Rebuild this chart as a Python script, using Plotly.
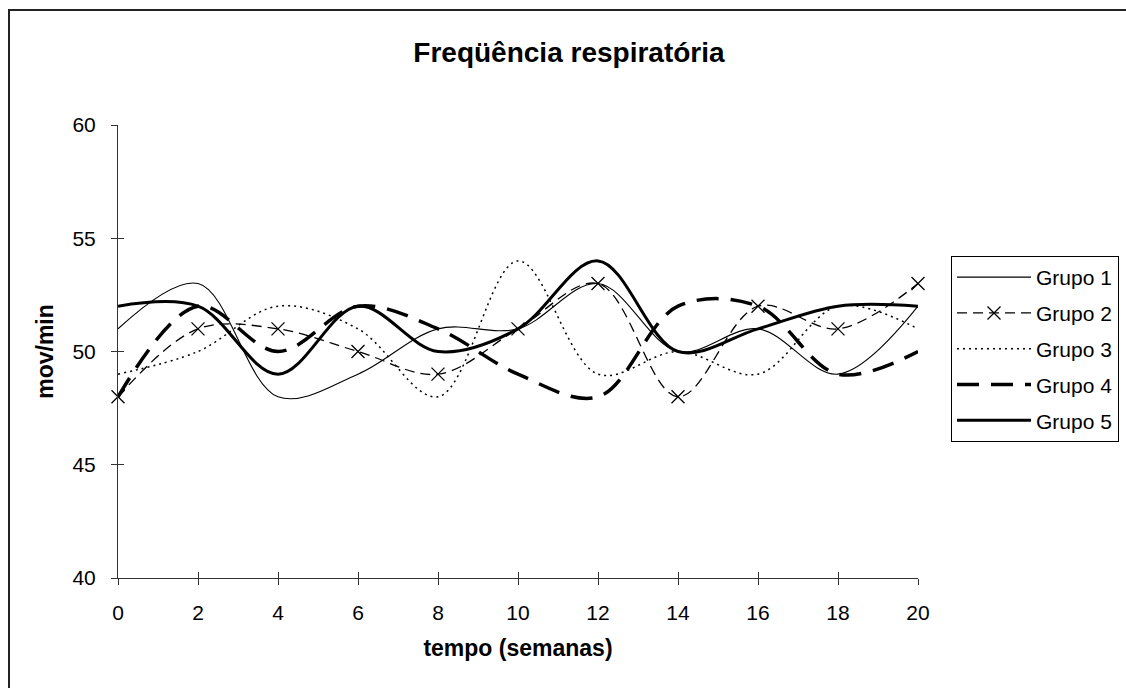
import plotly.graph_objects as go

# Respiratory rate (breaths/min) per group, measured every two weeks
semanas = [0, 2, 4, 6, 8, 10, 12, 14, 16, 18, 20]
grupo_1 = [51, 53, 48, 49, 51, 51, 53, 50, 51, 49, 52]
grupo_2 = [48, 51, 51, 50, 49, 51, 53, 48, 52, 51, 53]
grupo_3 = [49, 50, 52, 51, 48, 54, 49, 50, 49, 52, 51]
grupo_4 = [48, 52, 50, 52, 51, 49, 48, 52, 52, 49, 50]
grupo_5 = [52, 52, 49, 52, 50, 51, 54, 50, 51, 52, 52]

x_ticks = [0, 2, 4, 6, 8, 10, 12, 14, 16, 18, 20]
y_ticks = [40, 45, 50, 55, 60]

FONT = "Liberation Sans, Arial, sans-serif"

series = [
    ("Grupo 1", grupo_1, dict(width=1.1, dash="solid"), None),
    ("Grupo 2", grupo_2, dict(width=1.3, dash="10px,6px"),
     dict(symbol="x-thin", size=13, line=dict(width=1.3, color="black"), color="black")),
    ("Grupo 3", grupo_3, dict(width=1.5, dash="2px,4px"), None),
    ("Grupo 4", grupo_4, dict(width=3.5, dash="22px,12px"), None),
    ("Grupo 5", grupo_5, dict(width=3, dash="solid"), None),
]

fig = go.Figure()
for name, vals, line, marker in series:
    fig.add_trace(go.Scatter(
        x=semanas, y=vals, name=name,
        mode="lines+markers" if marker else "lines",
        line=dict(color="black", shape="spline", smoothing=1.0, **line),
        marker=marker,
        legendgroup=name,
        cliponaxis=False,
    ))

# empty trace that carries the inner half of the crossing tick marks
fig.add_trace(go.Scatter(x=[None], y=[None], xaxis="x2", yaxis="y2",
                         showlegend=False, hoverinfo="skip"))

axis_common = dict(showgrid=False, zeroline=False, linecolor="#333", linewidth=1,
                   tickcolor="#333", tickwidth=1, ticklen=6,
                   tickfont=dict(family=FONT, size=21, color="black"))
tick_only = {k: v for k, v in axis_common.items() if k != "tickfont"}

fig.update_layout(
    width=1126, height=688,
    margin=dict(l=118, r=208, t=125, b=110),
    paper_bgcolor="white", plot_bgcolor="white",
    font=dict(family=FONT, color="black"),
    title=dict(text="<b>Freqüência respiratória</b>", x=0.5053, xref="container",
               y=1 - 52 / 688, yref="container", xanchor="center", yanchor="middle",
               font=dict(family=FONT, size=28, color="black")),
    xaxis=dict(range=[0, 20], tickvals=x_ticks, ticks="outside", showline=True,
               ticklabelstandoff=10, automargin=False,
               title=dict(text="<b>tempo (semanas)</b>", standoff=16,
                          font=dict(family=FONT, size=23, color="black")),
               **axis_common),
    yaxis=dict(range=[40, 60], tickvals=y_ticks, ticks="outside", showline=True,
               ticklabelstandoff=11, automargin=False,
               title=dict(text="<b>mov/min</b>", standoff=12,
                          font=dict(family=FONT, size=23, color="black")),
               **axis_common),
    xaxis2=dict(range=[0, 20], tickvals=x_ticks, ticks="inside", overlaying="x",
                anchor="y2", side="bottom", showline=False, showticklabels=False,
                **tick_only),
    yaxis2=dict(range=[40, 60], tickvals=y_ticks, ticks="inside", overlaying="y",
                anchor="x2", side="left", showline=False, showticklabels=False,
                **tick_only),
    legend=dict(xref="container", yref="container",
                x=951 / 1126, xanchor="left", y=1 - 256 / 688, yanchor="top",
                bordercolor="black", borderwidth=1, bgcolor="white",
                font=dict(family=FONT, size=21, color="black"),
                itemwidth=74, traceorder="grouped", tracegroupgap=5.5),
    shapes=[dict(type="rect", xref="paper", yref="paper",
                 x0=(9 - 118) / 800, x1=(1150 - 118) / 800,
                 y0=(578 - 700) / 453, y1=(578 - 10) / 453,
                 line=dict(color="#222", width=2), fillcolor="rgba(0,0,0,0)",
                 layer="below")],
)

fig.write_html("out.html")
